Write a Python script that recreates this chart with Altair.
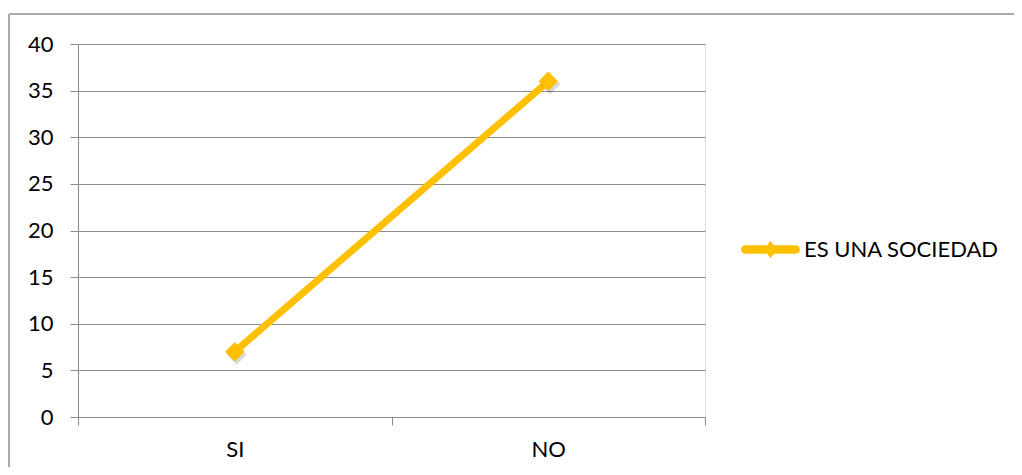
import altair as alt
import pandas as pd

categories = ["SI", "NO"]
values = [7, 36]
series_name = "ES UNA SOCIEDAD"
y_ticks = [0, 5, 10, 15, 20, 25, 30, 35, 40]

df = pd.DataFrame({"cat": categories, "val": values, "serie": [series_name] * len(categories)})

GOLD = "#FFC000"
GRID = "#8C8C8C"
FONT = "Lato"
FS = 22

x_enc = alt.X(
    "cat:N",
    sort=categories,
    scale=alt.Scale(type="band", paddingInner=0, paddingOuter=0),
    axis=alt.Axis(
        title=None, labelAngle=0, tickBand="extent", tickSize=8, tickColor=GRID,
        domainColor=GRID, labelFontSize=FS, labelFont=FONT, labelColor="#000000",
        labelPadding=14, grid=False,
    ),
)
y_enc = alt.Y(
    "val:Q",
    scale=alt.Scale(domain=[0, 40], nice=False),
    axis=alt.Axis(
        title=None, values=y_ticks, tickSize=8, tickColor=GRID, domainColor=GRID,
        gridColor=GRID, gridWidth=1, labelFontSize=FS, labelFont=FONT,
        labelColor="#000000", labelPadding=17,
    ),
)

legend_path = (
    "M-0.86,-0.14L0.86,-0.14A0.14,0.14 0 0 1 0.86,0.14L-0.86,0.14"
    "A0.14,0.14 0 0 1 -0.86,-0.14Z M0,-0.3L0.22,0L0,0.3L-0.22,0Z"
)

line = alt.Chart(df).mark_line(strokeWidth=7, strokeCap="round").encode(
    x=x_enc,
    y=y_enc,
    color=alt.Color(
        "serie:N",
        scale=alt.Scale(range=[GOLD]),
        legend=alt.Legend(
            title=None, orient="none", legendX=663, legendY=176,
            symbolType=legend_path, symbolSize=3481, symbolStrokeWidth=0,
            symbolFillColor=GOLD, labelFontSize=FS, labelFont=FONT,
            labelColor="#000000", labelOffset=4, labelLimit=400,
        ),
    ),
)

shadow = alt.Chart(df).mark_point(
    shape="diamond", filled=True, size=400, color="#000000", opacity=0.15, xOffset=2, yOffset=3
).encode(x=alt.X("cat:N", sort=categories), y="val:Q")

points = alt.Chart(df).mark_point(
    shape="diamond", filled=True, size=380, color=GOLD, opacity=1
).encode(x=alt.X("cat:N", sort=categories), y="val:Q")

border_top = alt.Chart(df).mark_rule(color="#A6A6A6", strokeWidth=1.5).encode(
    x=alt.value(-69), x2=alt.value(944), y=alt.value(-30)
)
border_left = alt.Chart(df).mark_rule(color="#A6A6A6", strokeWidth=1.5).encode(
    x=alt.value(-69), y=alt.value(-30), y2=alt.value(440)
)

chart = alt.layer(border_top, border_left, line, shadow, points).properties(
    width=627,
    height=373,
    autosize=alt.AutoSizeParams(type="none"),
    padding={"left": 70, "top": 36, "right": 309, "bottom": 50},
).configure_view(stroke=None).configure(background="#FFFFFF")

chart.save("out.html", embed_options={"renderer": "svg", "actions": False})
